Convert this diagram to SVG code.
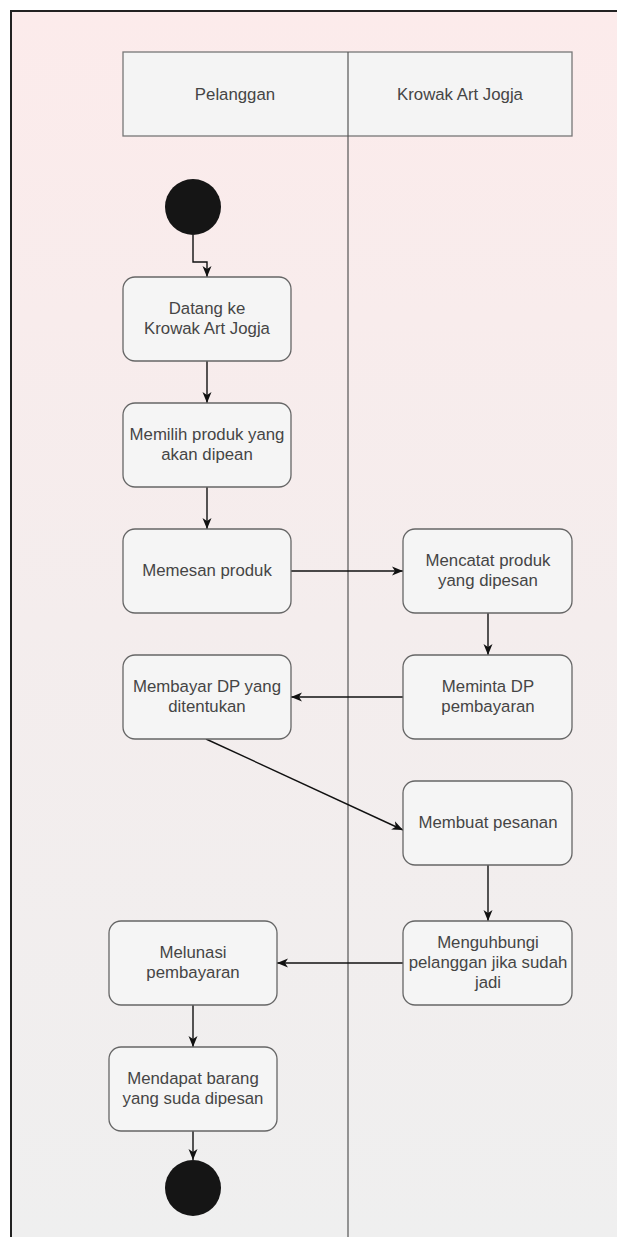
<svg xmlns="http://www.w3.org/2000/svg" width="617" height="1237" viewBox="0 0 617 1237">
<defs>
<linearGradient id="bg" x1="0" y1="0" x2="0" y2="1">
<stop offset="0" stop-color="#fcebeb"/>
<stop offset="0.5" stop-color="#f4eded"/>
<stop offset="1" stop-color="#efefef"/>
</linearGradient>
<marker id="arr" markerUnits="userSpaceOnUse" markerWidth="12" markerHeight="10" refX="11" refY="5" orient="auto">
<path d="M0,0.5 L11,5 L0,9.5 L3,5 z" fill="#111"/>
</marker>
<style>
.box{fill:#f5f5f5;stroke:#666;stroke-width:1.3}
.t{font-family:"Liberation Sans",Arial,sans-serif;font-size:16.8px;fill:#454545;text-anchor:middle}
.c{fill:none;stroke:#111;stroke-width:1.4;marker-end:url(#arr)}
.dot{fill:#151515}
</style>
</defs>
<rect x="0" y="0" width="617" height="1237" fill="#ffffff"/>
<rect x="11" y="11" width="606" height="1226" fill="url(#bg)"/>
<path d="M11,1237 V11 H617" fill="none" stroke="#222" stroke-width="2"/>
<g id="header">
<rect x="123" y="52" width="449" height="84" fill="#f4f4f4" stroke="#777" stroke-width="1.3"/>
<text class="t" x="235" y="100">Pelanggan</text>
<text class="t" x="460" y="100">Krowak Art Jogja</text>
</g>
<g id="lane">
<line x1="348" y1="52" x2="348" y2="1237" stroke="#555" stroke-width="1.2"/>
</g>
<g id="connectors">
<path class="c" d="M193,235 V262 H207 V277"/>
<path class="c" d="M207,361 V403"/>
<path class="c" d="M207,487 V529"/>
<path class="c" d="M291,571 H403"/>
<path class="c" d="M488,613 V655"/>
<path class="c" d="M403,697 H291"/>
<path class="c" d="M206,739 L403,830"/>
<path class="c" d="M488,865 V921"/>
<path class="c" d="M403,963 H277"/>
<path class="c" d="M193,1005 V1047"/>
<path class="c" d="M193,1131 V1160"/>
</g>
<g id="start"><circle class="dot" cx="193" cy="207" r="28"/></g>
<g id="n1"><rect class="box" x="123" y="277" width="168" height="84" rx="12"/>
<text class="t" x="207" y="314">Datang ke</text><text class="t" x="207" y="334">Krowak Art Jogja</text></g>
<g id="n2"><rect class="box" x="123" y="403" width="168" height="84" rx="12"/>
<text class="t" x="207" y="440">Memilih produk yang</text><text class="t" x="207" y="460">akan dipean</text></g>
<g id="n3"><rect class="box" x="123" y="529" width="168" height="84" rx="12"/>
<text class="t" x="207" y="576">Memesan produk</text></g>
<g id="n4"><rect class="box" x="403" y="529" width="169" height="84" rx="12"/>
<text class="t" x="488" y="566">Mencatat produk</text><text class="t" x="488" y="586">yang dipesan</text></g>
<g id="n5"><rect class="box" x="403" y="655" width="169" height="84" rx="12"/>
<text class="t" x="488" y="692">Meminta DP</text><text class="t" x="488" y="712">pembayaran</text></g>
<g id="n6"><rect class="box" x="123" y="655" width="168" height="84" rx="12"/>
<text class="t" x="207" y="692">Membayar DP yang</text><text class="t" x="207" y="712">ditentukan</text></g>
<g id="n7"><rect class="box" x="403" y="781" width="169" height="84" rx="12"/>
<text class="t" x="488" y="828">Membuat pesanan</text></g>
<g id="n8"><rect class="box" x="403" y="921" width="169" height="84" rx="12"/>
<text class="t" x="488" y="948">Menguhbungi</text><text class="t" x="488" y="968">pelanggan jika sudah</text><text class="t" x="488" y="988">jadi</text></g>
<g id="n9"><rect class="box" x="109" y="921" width="168" height="84" rx="12"/>
<text class="t" x="193" y="958">Melunasi</text><text class="t" x="193" y="978">pembayaran</text></g>
<g id="n10"><rect class="box" x="109" y="1047" width="168" height="84" rx="12"/>
<text class="t" x="193" y="1084">Mendapat barang</text><text class="t" x="193" y="1104">yang suda dipesan</text></g>
<g id="end"><circle class="dot" cx="193" cy="1188" r="28"/></g>
</svg>
